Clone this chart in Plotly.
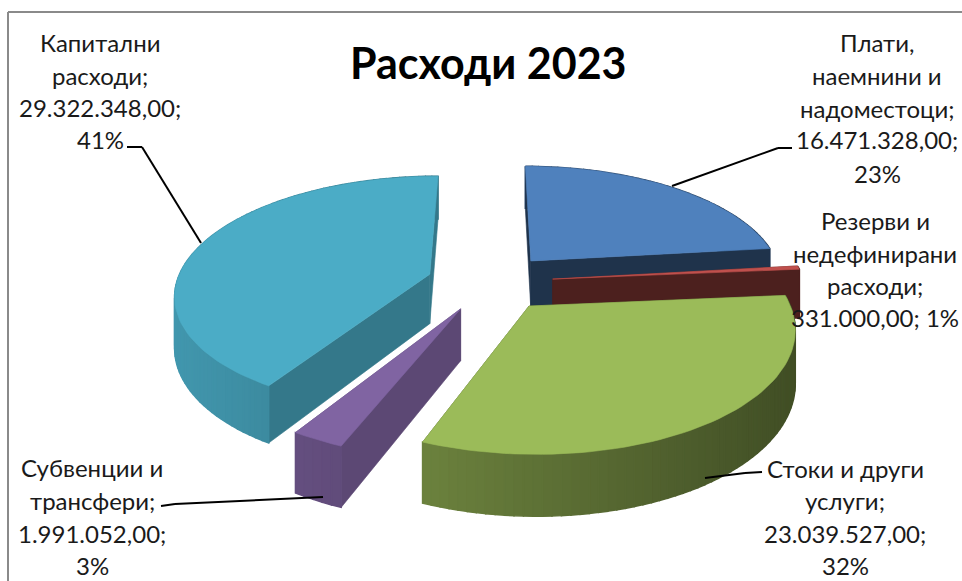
import math
import plotly.graph_objects as go

# ---------- data ----------
categories = ["Плати, наемнини и надоместоци", "Резерви и недефинирани расходи",
              "Стоки и други услуги", "Субвенции и трансфери", "Капитални расходи"]
values = [16471328.00, 331000.00, 23039527.00, 1991052.00, 29322348.00]
title_text = "Расходи 2023"
label_lines = [
    ["Плати,", "наемнини и", "надоместоци;", "16.471.328,00;", "23%"],
    ["Резерви и", "недефинирани", "расходи;", "331.000,00; 1%"],
    ["Стоки и други", "услуги;", "23.039.527,00;", "32%"],
    ["Субвенции и", "трансфери;", "1.991.052,00;", "3%"],
    ["Капитални", "расходи;", "29.322.348,00;", "41%"],
]

# ---------- styles ----------
top_colors = ["#4F81BD", "#C0504D", "#9BBB59", "#8064A2", "#4BACC6"]
wall_shade = [0.40, 0.40, 0.50, 0.72, 0.70]
draw_order = [0, 1, 4, 3, 2]
label_x = [877, 875, 845, 92, 100]
label_y = [[42, 75, 108, 139, 173], [220, 253, 285, 317], [468, 500, 533, 565], [467, 500, 533, 565], [42, 75, 107, 139]]
leaders = [
    [(792, 148), (778, 148), (672, 186)],
    [(762, 472), (745, 473), (705, 478)],
    [(161, 506), (175, 504), (323, 497)],
    [(127, 147), (142, 147), (201, 243)],
]
LABEL_FONT = "Lato, 'Noto Sans', sans-serif"
CX, CY, RX, RY, K, DEPTH, EXPLODE = 490, 282, 253, 116, 0.16, 50, 0.25


def project(u, v, drop=False):
    """Perspective projection of a point in the pie's plane (v points away from viewer)."""
    f = 1 / (1 + K * v)
    return CX + RX * u * f, CY - RY * v * f + (DEPTH * f if drop else 0)


def shade(hex_color, s):
    r, g, b = (int(hex_color[i:i + 2], 16) for i in (1, 3, 5))
    return f"rgb({int(r * s)},{int(g * s)},{int(b * s)})"


def poly(fig, pts, color, lw=0.6):
    fig.add_trace(go.Scatter(x=[p[0] for p in pts] + [pts[0][0]], y=[p[1] for p in pts] + [pts[0][1]],
                             mode="lines", fill="toself", fillcolor=color,
                             line=dict(color=color, width=lw), hoverinfo="skip", showlegend=False))


total = sum(values)
angles = [0]
for val in values:
    angles.append(angles[-1] + val / total * 2 * math.pi)

fig = go.Figure()
for i in draw_order:
    a0, a1 = angles[i], angles[i + 1]
    mid = (a0 + a1) / 2
    ox, oy = EXPLODE * math.sin(mid), EXPLODE * math.cos(mid)
    n = max(3, int((a1 - a0) / 0.03))
    rim = [(ox + math.sin(a0 + (a1 - a0) * j / n), oy + math.cos(a0 + (a1 - a0) * j / n)) for j in range(n + 1)]
    faces = []
    for a, b in (((ox, oy), rim[0]), ((ox, oy), rim[-1])):
        pts = [project(*a), project(*b), project(*b, True), project(*a, True)]
        faces.append((sum(p[1] for p in pts) / 4, pts, shade(top_colors[i], wall_shade[i]), 0.6))
    for j in range(n):
        a, b = rim[j], rim[j + 1]
        pts = [project(*a), project(*b), project(*b, True), project(*a, True)]
        xm = sum(p[0] for p in pts) / 4
        faces.append((sum(p[1] for p in pts) / 4, pts, shade(top_colors[i], 0.42 + 0.46 * (795 - xm) / 620), 1.5))
    for _, pts, color, lw in sorted(faces, key=lambda t: t[0]):
        poly(fig, pts, color, lw)
    poly(fig, [project(ox, oy)] + [project(*p) for p in rim], top_colors[i])

annotations = [dict(x=488, y=62, text=f"<b>{title_text}</b>", showarrow=False, xref="x", yref="y",
                    font=dict(family=LABEL_FONT, size=43, color="#000000"))]
for lines, x, ys in zip(label_lines, label_x, label_y):
    for line, y in zip(lines, ys):
        annotations.append(dict(x=x, y=y, text=line, showarrow=False, xref="x", yref="y",
                                font=dict(family=LABEL_FONT, size=24, color="#1a1a1a")))

shapes = [dict(type="line", xref="x", yref="y", x0=8, y0=12, x1=8, y1=581, line=dict(color="#8a8a8a", width=2)),
          dict(type="line", xref="x", yref="y", x0=8, y0=12, x1=962, y1=12, line=dict(color="#8a8a8a", width=2))]
for pts in leaders:
    for p, q in zip(pts, pts[1:]):
        shapes.append(dict(type="line", xref="x", yref="y", x0=p[0], y0=p[1], x1=q[0], y1=q[1],
                           line=dict(color="#000000", width=2)))

fig.update_layout(width=962, height=581, autosize=False, margin=dict(l=0, r=0, t=0, b=0),
                  paper_bgcolor="white", plot_bgcolor="white", annotations=annotations, shapes=shapes,
                  xaxis=dict(range=[0, 962], visible=False, fixedrange=True),
                  yaxis=dict(range=[581, 0], visible=False, fixedrange=True))
fig.write_html("out.html", config=dict(displayModeBar=False),
               post_script="document.body.style.margin='0';document.body.style.overflow='hidden';")
